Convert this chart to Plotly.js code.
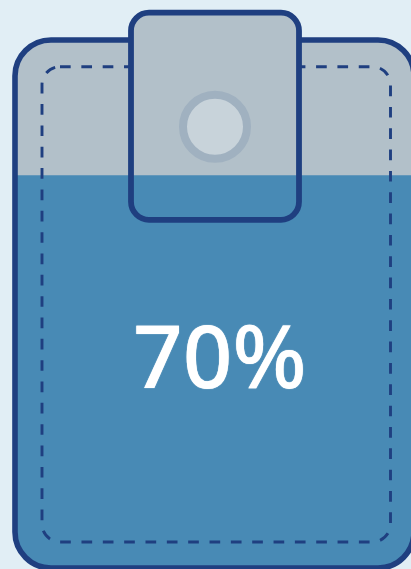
<!DOCTYPE html>
<html>
<head>
<meta charset="utf-8">
<script src="https://cdn.plot.ly/plotly-3.0.1.min.js"></script>
<style>html,body{margin:0;padding:0;background:#e1eef5;overflow:hidden}#c{width:411px;height:569px}</style>
</head>
<body>
<div id="c"></div>
<script>
// Data
const categories = ["filled"];
const fillValues = [70];

// Colours
const BG = "#e1eef5", GREY = "#b2c0c9", WATER = "#488ab5", NAVY = "#1f3f80",
      RING = "#a0b1c0", HOLE = "#c8d3da";

// y-axis is in percent; 0 at the pouch bottom, 100 near the top of the tab
const W = 411, H = 569, base = 568, pxPerPct = 5.61;
const toPct = p => (base - p) / pxPerPct;

function rrect(x0, y0, x1, y1, rt, rb) {
  const k = 0.4477;
  const X = v => v, Y = toPct;
  const c = (a, b, d, e, f, g) => `C${X(a)},${Y(b)} ${X(d)},${Y(e)} ${X(f)},${Y(g)}`;
  let s = `M${X(x0 + rt)},${Y(y0)} L${X(x1 - rt)},${Y(y0)} `;
  s += rt ? c(x1 - rt * k, y0, x1, y0 + rt * k, x1, y0 + rt) : "";
  s += ` L${X(x1)},${Y(y1 - rb)} `;
  s += c(x1, y1 - rb * k, x1 - rb * k, y1, x1 - rb, y1);
  s += ` L${X(x0 + rb)},${Y(y1)} `;
  s += c(x0 + rb * k, y1, x0, y1 - rb * k, x0, y1 - rb);
  s += ` L${X(x0)},${Y(y0 + rt)} `;
  s += rt ? c(x0, y0 + rt * k, x0 + rt * k, y0, x0 + rt, y0) : "";
  return s + " Z";
}

const value = fillValues[0];
const waterTop = base - value * pxPerPct;
const none = {width: 0};
const clear = "rgba(0,0,0,0)";
const shapes = [
  {type: "path", path: rrect(15, 40, 414, base, 36, 36), fillcolor: GREY, line: none},
  {type: "path", path: rrect(15, waterTop, 414, base, 0, 36), fillcolor: WATER, line: none},
  {type: "path", path: rrect(42, 66.7, 390.5, 542, 18, 18), fillcolor: clear,
   line: {color: NAVY, width: 2.9, dash: "10.67px,10.67px"}},
  {type: "path", path: rrect(15, 40, 414, base, 36, 36), fillcolor: clear,
   line: {color: NAVY, width: 5.6}},
  {type: "path", path: rrect(131, 12.7, 299, 219.8, 18, 18), fillcolor: GREY, line: none},
  {type: "path", path: rrect(131, waterTop, 299, 219.8, 0, 18), fillcolor: WATER, line: none},
  {type: "path", path: rrect(131, 12.7, 299, 219.8, 18, 18), fillcolor: clear,
   line: {color: NAVY, width: 5.8}},
  {type: "circle", xref: "x", yref: "y", x0: 183, x1: 247, y0: toPct(158.7), y1: toPct(94.7),
   fillcolor: HOLE, line: {color: RING, width: 8}}
];

Plotly.newPlot("c", [], {
  width: W, height: H,
  margin: {l: 0, r: 0, t: 0, b: 0},
  paper_bgcolor: BG, plot_bgcolor: BG,
  showlegend: false,
  xaxis: {range: [0, W], visible: false, fixedrange: true},
  yaxis: {range: [toPct(H), toPct(0)], visible: false, fixedrange: true},
  shapes: shapes,
  annotations: [{
    x: 220, y: toPct(354), xref: "x", yref: "y", showarrow: false,
    xanchor: "center", yanchor: "middle",
    text: value + "%",
    font: {family: "Noto Sans, Open Sans, sans-serif", size: 87, color: "#ffffff", weight: 500,
           shadow: "0 0 1px #ffffff"}
  }]
}, {displayModeBar: false, staticPlot: true});
</script>
</body>
</html>
